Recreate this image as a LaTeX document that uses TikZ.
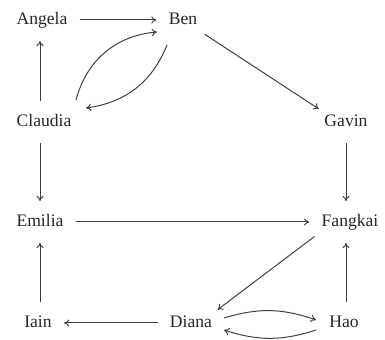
\documentclass[tikz,border=0pt]{standalone}
\usepackage{fontspec}
\setmainfont{Liberation Serif}
\usetikzlibrary{arrows.meta,calc}
\begin{document}
\begin{tikzpicture}[x=0.5pt,y=-0.5pt,
  person/.style={inner sep=1pt,text height=6.5pt,text depth=2pt,font=\fontsize{8.8}{10}\selectfont,text=black!85},
  link/.style={-{To[length=2.6pt,width=3.6pt]},line width=0.5pt,draw=black!75,shorten >=5pt,shorten <=5pt},
  curv/.style={link,shorten >=0pt,shorten <=0pt}]
\useasboundingbox (0,0) rectangle (385,340);
\node[person] (A) at (42,20) {Angela};
\node[person] (B) at (183,20) {Ben};
\node[person] (C) at (44,122) {Claudia};
\node[person] (G) at (346,122) {Gavin};
\node[person] (E) at (40,222) {Emilia};
\node[person] (F) at (350,222) {Fangkai};
\node[person] (I) at (38,323) {Iain};
\node[person] (D) at (191,323) {Diana};
\node[person] (H) at (344,323) {Hao};
\draw[link] (A) -- (B);
\draw[link] ([xshift=-2pt]C.north) -- ([xshift=-1pt]A.south);
\draw[curv] ($(C)+(32,-22)$) to[bend left=35] ($(B)+(-26,12)$);
\draw[curv] ($(B)+(-16,25)$) to[bend left=30] ($(C)+(42,-14)$);
\draw[link,shorten <=3pt,shorten >=2pt] (B.south east) -- (G.north west);
\draw[link] ([xshift=-2pt]C.south) -- (E.north);
\draw[link] (G) -- ([xshift=-2pt]F.north);
\draw[link] (E) -- (F);
\draw[link,shorten <=3pt,shorten >=2pt] (F.south west) -- (D.north east);
\draw[curv] ($(D)+(33,-5)$) to[bend left=18] ($(H)+(-28,-3)$);
\draw[curv] ($(H)+(-28,7)$) to[bend left=18] ($(D)+(33,7)$);
\draw[link] ([xshift=1pt]H.north) -- ([xshift=-2pt]F.south);
\draw[link] ([xshift=1pt]I.north) -- (E.south);
\draw[link] (D) -- (I);
\end{tikzpicture}
\end{document}
